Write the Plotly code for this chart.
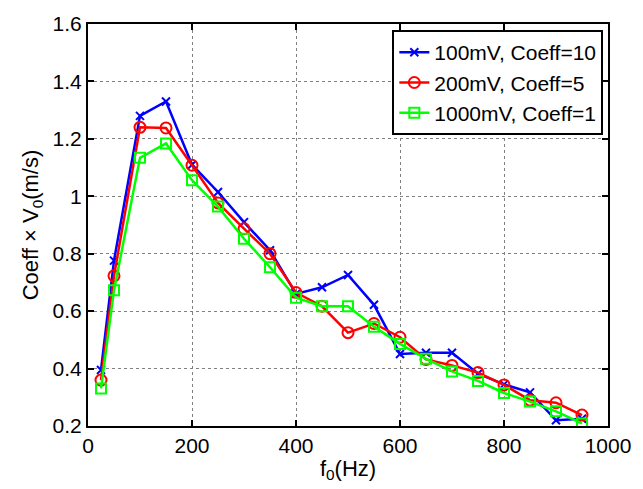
import plotly.graph_objects as go

# Excitation frequency (Hz)
freq_hz = [25, 50, 100, 150, 200, 250, 300, 350, 400, 450,
           500, 550, 600, 650, 700, 750, 800, 850, 900, 950]

# Scaled velocity amplitude, Coeff x V0 (m/s)
v_100mv = [0.395, 0.776, 1.28, 1.33, 1.11, 1.015, 0.91, 0.812, 0.66, 0.683,
           0.726, 0.622, 0.451, 0.455, 0.455, 0.382, 0.345, 0.317, 0.22, 0.225]
v_200mv = [0.36, 0.723, 1.24, 1.238, 1.108, 0.977, 0.887, 0.80, 0.665, 0.617,
           0.525, 0.557, 0.509, 0.432, 0.411, 0.386, 0.343, 0.29, 0.281, 0.238]
v_1000mv = [0.331, 0.673, 1.134, 1.184, 1.056, 0.964, 0.852, 0.753, 0.647, 0.617,
            0.617, 0.546, 0.486, 0.434, 0.39, 0.357, 0.315, 0.285, 0.251, 0.209]

series_names = ["100mV, Coeff=10", "200mV, Coeff=5", "1000mV, Coeff=1"]

x_ticks = [0, 200, 400, 600, 800, 1000]
y_ticks = [0.2, 0.4, 0.6, 0.8, 1.0, 1.2, 1.4, 1.6]
y_tick_text = ["0.2", "0.4", "0.6", "0.8", "1", "1.2", "1.4", "1.6"]

FONT = "Liberation Sans, Arial, Helvetica, sans-serif"

fig = go.Figure()
fig.add_trace(go.Scatter(
    x=freq_hz, y=v_100mv, name=series_names[0], mode="lines+markers",
    line=dict(color="#0000FF", width=2.5),
    marker=dict(symbol="x-thin", size=8, line=dict(color="#0000FF", width=2)),
))
fig.add_trace(go.Scatter(
    x=freq_hz, y=v_200mv, name=series_names[1], mode="lines+markers",
    line=dict(color="#FF0000", width=2.5),
    marker=dict(symbol="circle-open", size=11, color="#FF0000",
                line=dict(color="#FF0000", width=2)),
))
fig.add_trace(go.Scatter(
    x=freq_hz, y=v_1000mv, name=series_names[2], mode="lines+markers",
    line=dict(color="#00FF00", width=2.5),
    marker=dict(symbol="square-open", size=10, color="#00FF00",
                line=dict(color="#00FF00", width=2)),
))

axis_common = dict(
    showline=True, linecolor="black", linewidth=2, mirror="allticks",
    ticks="inside", ticklen=6, tickwidth=2, tickcolor="black",
    showgrid=True, gridcolor="#808080", gridwidth=1, griddash="dot",
    zeroline=False, tickfont=dict(family=FONT, size=21, color="black"),
)

fig.update_layout(
    width=643, height=489,
    margin=dict(l=88, r=26, t=22, b=58),
    paper_bgcolor="white", plot_bgcolor="white",
    font=dict(family=FONT, color="black"),
    xaxis=dict(axis_common, range=[0, 1000], tickvals=x_ticks,
               title=dict(text="f<sub>0</sub>(Hz)", font=dict(size=22), standoff=4)),
    yaxis=dict(axis_common, range=[0.2, 1.6], tickvals=y_ticks, ticktext=y_tick_text,
               title=dict(text="Coeff × V<sub>0</sub>(m/s)", font=dict(size=22), standoff=8)),
    legend=dict(
        x=0.991, y=0.985, xanchor="right", yanchor="top",
        bgcolor="white", bordercolor="black", borderwidth=2,
        font=dict(family=FONT, size=21, color="black"),
        tracegroupgap=0, itemwidth=30,
    ),
)

fig.write_html("out.html")
